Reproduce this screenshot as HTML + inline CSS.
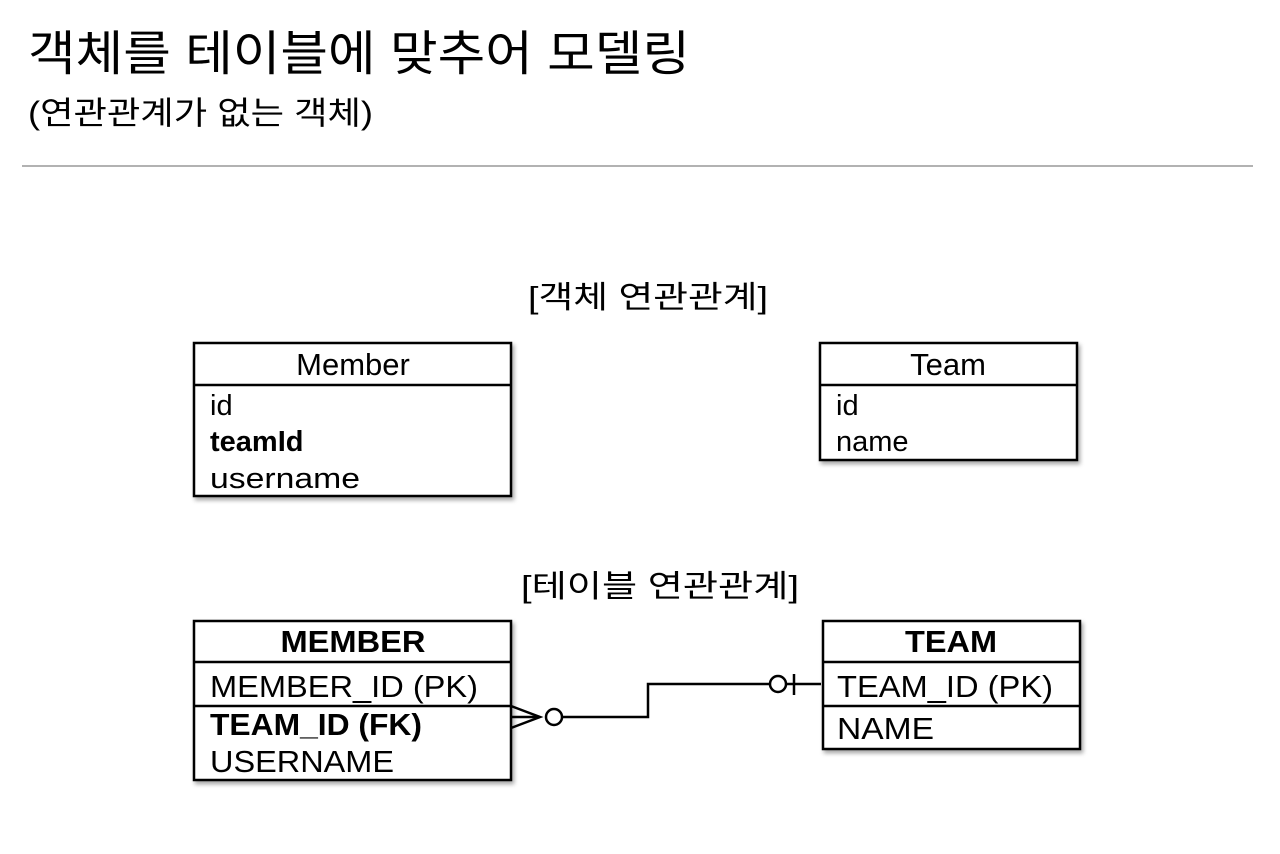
<!DOCTYPE html>
<html><head><meta charset="utf-8"><style>
html,body{margin:0;padding:0;background:#fff;width:1280px;height:854px;overflow:hidden}
svg{display:block}
text{font-family:"Liberation Sans","Noto Sans CJK KR",sans-serif;fill:#000}
</style></head><body>
<svg width="1280" height="854" viewBox="0 0 1280 854" xmlns="http://www.w3.org/2000/svg">
<defs><filter id="sh" x="-5%" y="-5%" width="115%" height="120%"><feDropShadow dx="2" dy="3" stdDeviation="2" flood-color="#000" flood-opacity="0.35"/></filter></defs>
<text x="28" y="70" font-size="48" textLength="662" lengthAdjust="spacingAndGlyphs">객체를 테이블에 맞추어 모델링</text>
<text x="28" y="124" font-size="32" textLength="345" lengthAdjust="spacingAndGlyphs">(연관관계가 없는 객체)</text>
<line x1="22" y1="166" x2="1253" y2="166" stroke="#999" stroke-width="1.5"/>

<text x="648" y="308" font-size="31" text-anchor="middle" textLength="240" lengthAdjust="spacingAndGlyphs">[객체 연관관계]</text>
<text x="660" y="597" font-size="31" text-anchor="middle" textLength="278" lengthAdjust="spacingAndGlyphs">[테이블 연관관계]</text>

<g stroke="#000" stroke-width="2.5" fill="#fff">
<rect x="194" y="343" width="317" height="153" filter="url(#sh)"/>
<rect x="820" y="343" width="257" height="117" filter="url(#sh)"/>
<rect x="194" y="621" width="317" height="159" filter="url(#sh)"/>
<rect x="823" y="621" width="257" height="128" filter="url(#sh)"/>
<line x1="194" y1="385" x2="511" y2="385"/>
<line x1="820" y1="385" x2="1077" y2="385"/>
<line x1="194" y1="662" x2="511" y2="662"/>
<line x1="194" y1="706" x2="511" y2="706"/>
<line x1="823" y1="662" x2="1080" y2="662"/>
<line x1="823" y1="706" x2="1080" y2="706"/>
</g>

<text x="353" y="375" font-size="31" text-anchor="middle">Member</text>
<text x="210" y="415" font-size="29">id</text>
<text x="210" y="451" font-size="29" font-weight="bold">teamId</text>
<text x="210" y="488" font-size="29" textLength="150" lengthAdjust="spacingAndGlyphs">username</text>

<text x="948" y="375" font-size="31" text-anchor="middle">Team</text>
<text x="836" y="415" font-size="29">id</text>
<text x="836" y="451" font-size="29">name</text>

<text x="353" y="652" font-size="31" text-anchor="middle" font-weight="bold" textLength="145" lengthAdjust="spacingAndGlyphs">MEMBER</text>
<text x="210" y="697" font-size="31" textLength="268" lengthAdjust="spacingAndGlyphs">MEMBER_ID (PK)</text>
<text x="210" y="735" font-size="31" font-weight="bold" textLength="212" lengthAdjust="spacingAndGlyphs">TEAM_ID (FK)</text>
<text x="210" y="772" font-size="31" textLength="184" lengthAdjust="spacingAndGlyphs">USERNAME</text>

<text x="951" y="652" font-size="31" text-anchor="middle" font-weight="bold" textLength="92" lengthAdjust="spacingAndGlyphs">TEAM</text>
<text x="837" y="697" font-size="31" textLength="216" lengthAdjust="spacingAndGlyphs">TEAM_ID (PK)</text>
<text x="837" y="739" font-size="31" textLength="97" lengthAdjust="spacingAndGlyphs">NAME</text>

<g stroke="#000" stroke-width="2.5" fill="none">
<polyline points="511,706 540,717 511,728"/>
<line x1="511" y1="717" x2="540" y2="717"/>
<circle cx="554" cy="717" r="8" fill="#fff"/>
<polyline points="562,717 648,717 648,684 770,684"/>
<circle cx="778" cy="684" r="8" fill="#fff"/>
<line x1="786" y1="684" x2="821" y2="684"/>
<line x1="794" y1="674" x2="794" y2="695"/>
</g>
</svg>
</body></html>
